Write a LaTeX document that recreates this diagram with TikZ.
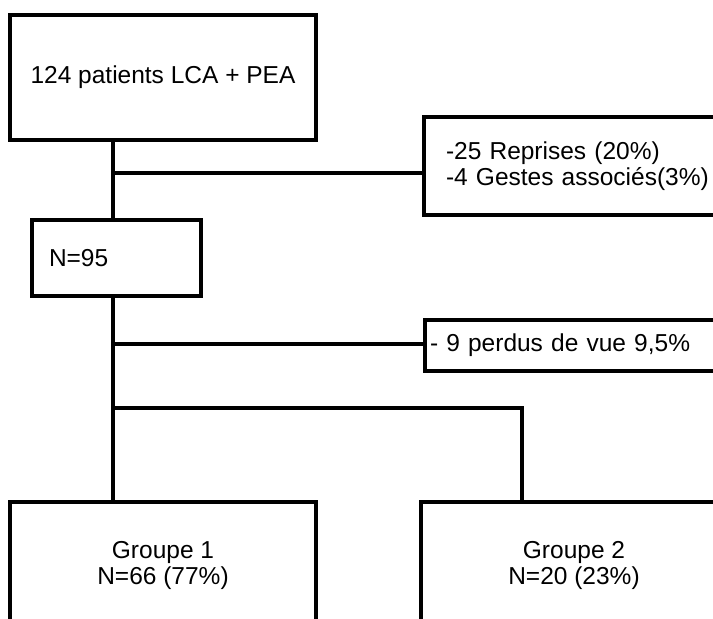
\documentclass[tikz,border=0pt]{standalone}
\usepackage{fontspec}
\setmainfont{Liberation Sans}
\usetikzlibrary{positioning}
\tikzset{box/.style = {draw, line width = 4, rectangle, fill = white, inner sep = 0, font = \fontsize{24.5}{26}\selectfont}}
\tikzset{link/.style = {line width = 4}}

\begin{document}
\begin{tikzpicture}[x = 1pt, y = -1pt]
      \clip (0, 0) rectangle (713, 619);
      \fill [white] (0, 0) rectangle (713, 619);

      \node [box, minimum width = 306, minimum height = 125] (start) at (163, 77.5) {124 patients LCA + PEA};
      \node [box, anchor = north west, minimum height = 98, text width = 272, inner xsep = 22, align = left] (reprises) at (422, 115) {-25 Reprises (20\%)\\-4 Gestes associés(3\%)};
      \node [box, anchor = north west, minimum height = 76, text width = 135, inner xsep = 17, align = left] (n95) at (30, 218) {N=95};
      \node [box, anchor = north west, minimum height = 51, text width = 300, inner xsep = 5, align = left] (perdus) at (423, 318) {- 9 perdus de vue 9,5\%};

      \foreach \i/\x/\n in {1/163/{N=66 (77\%)}, 2/574/{N=20 (23\%)}} {
        \node [box, anchor = north, minimum width = 306, minimum height = 126, align = center] (g\i) at (\x, 500) {Groupe \i\\\n};
      }

      \coordinate (j1) at (113, 173);
      \coordinate (j2) at (113, 344);
      \coordinate (j3) at (113, 408);
      \coordinate (j4) at (522, 408);

      \draw [link] (j1 |- start.south) -- (j1 |- n95.north);
      \draw [link] (j1) -- (reprises.west |- j1);
      \draw [link] (j1 |- n95.south) -- (j1 |- g1.north);
      \draw [link] (j2) -- (perdus.west |- j2);
      \draw [link] (j3) -- (j4) -- (j4 |- g2.north);
    \end{tikzpicture}
\end{document}
